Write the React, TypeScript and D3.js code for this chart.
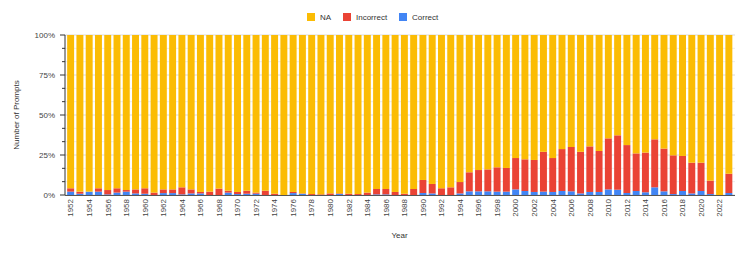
import React, { useEffect, useRef } from 'react';
import * as d3 from 'd3';

// years shown on the x axis (one bar each)
const years: number[] = d3.range(1952, 2024);

// share of prompts per year, in percent
const correct: number[] = [
  2.1, 0.8, 2.1, 2.1, 0.4, 1.5, 2.1, 1.0, 0.8, 0, 1.2, 1.2, 0.4, 1.0, 1.0, 0, 0, 1.5, 0.6, 0.8,
  0.8, 0, 0, 0, 1.2, 0.8, 0, 0, 0, 0.6, 0, 0, 0, 0.4, 0.4, 0, 0, 0, 1.25, 1.0,
  0, 0, 1.0, 2.3, 2.3, 2.3, 2.1, 2.1, 3.5, 2.5, 1.9, 2.1, 1.9, 2.5, 2.3, 1.0, 1.9, 1.9, 3.5, 3.3,
  1.25, 2.5, 1.7, 4.8, 2.3, 0.6, 2.5, 1.0, 2.5, 0.6, 0, 1.25,
];

const incorrect: number[] = [
  2.1, 1.3, 0, 2.1, 2.7, 2.7, 1.0, 2.5, 3.4, 1.5, 2.3, 2.3, 4.4, 2.5, 0.9, 2.1, 4.0, 1.2, 1.3, 1.9,
  0.7, 2.7, 0.8, 0, 0.7, 0.2, 0.6, 0.4, 1.0, 0.4, 0.8, 0.6, 1.5, 3.35, 3.35, 1.9, 0.8, 3.75, 8.15, 5.9,
  4.2, 4.8, 7.1, 11.9, 13.3, 13.7, 15.2, 14.8, 19.6, 19.8, 20.0, 24.9, 21.2, 26.2, 27.7, 26.0, 28.5, 25.6, 31.9, 34.0,
  29.95, 23.5, 24.8, 30.0, 26.7, 24.2, 21.9, 19.2, 17.7, 8.4, 0, 12.05,
];

const seriesKeys = ['NA', 'Incorrect', 'Correct'];
const seriesColors = ['#FBBC04', '#EA4335', '#4285F4'];
const majorTicks = [0, 25, 50, 75, 100];

interface Row {
  year: string;
  Correct: number;
  Incorrect: number;
  NA: number;
}

export default function App() {
  const ref = useRef<SVGSVGElement>(null);

  useEffect(() => {
    const width = 747;
    const height = 253;
    const margin = { top: 35, bottom: 58, left: 65, right: 13 };
    const font = 'Arial, "Liberation Sans", sans-serif';

    const rows: Row[] = years.map((y, i) => ({
      year: String(y),
      Correct: correct[i],
      Incorrect: incorrect[i],
      NA: 100 - correct[i] - incorrect[i],
    }));

    const svg = d3.select(ref.current);
    svg.selectAll('*').remove();

    const xScale = d3
      .scaleBand()
      .domain(rows.map((d) => d.year))
      .range([margin.left + 1, width - margin.right - 0.5])
      .paddingInner(0.25)
      .paddingOuter(0.125);

    const yScale = d3
      .scaleLinear()
      .domain([0, 100])
      .range([height - margin.bottom, margin.top]);

    // gridlines, every 1/12 of the axis
    const gridValues = d3.range(0, 13).map((i) => (i * 100) / 12);
    svg
      .append('g')
      .selectAll('line')
      .data(gridValues)
      .enter()
      .append('line')
      .attr('x1', margin.left)
      .attr('x2', width - margin.right + 1)
      .attr('y1', (d) => yScale(d))
      .attr('y2', (d) => yScale(d))
      .attr('stroke', (d) => (d % 25 === 0 ? '#dadada' : '#ececec'))
      .attr('stroke-width', 1);

    // stacked bars: Correct at the bottom, then Incorrect, then NA
    const stack = d3.stack<Row>().keys(['Correct', 'Incorrect', 'NA']);
    const layers = stack(rows);
    const colorScale = d3.scaleOrdinal<string, string>().domain(seriesKeys).range(seriesColors);

    svg
      .append('g')
      .selectAll('g')
      .data(layers)
      .enter()
      .append('g')
      .attr('fill', (d) => colorScale(d.key))
      .selectAll('rect')
      .data((d) => d)
      .enter()
      .append('rect')
      .attr('x', (d) => xScale(d.data.year) as number)
      .attr('y', (d) => yScale(d[1]))
      .attr('width', xScale.bandwidth())
      .attr('height', (d) => Math.max(0, yScale(d[0]) - yScale(d[1])));

    // y axis
    const yAxis = svg.append('g');
    yAxis
      .append('line')
      .attr('x1', margin.left)
      .attr('x2', margin.left)
      .attr('y1', yScale(100))
      .attr('y2', yScale(0))
      .attr('stroke', '#333');
    yAxis
      .selectAll('line.tick')
      .data(gridValues)
      .enter()
      .append('line')
      .attr('class', 'tick')
      .attr('x1', (d) => (d % 25 === 0 ? margin.left - 5 : margin.left - 3))
      .attr('x2', margin.left)
      .attr('y1', (d) => yScale(d))
      .attr('y2', (d) => yScale(d))
      .attr('stroke', '#333');
    yAxis
      .selectAll('text')
      .data(majorTicks)
      .enter()
      .append('text')
      .attr('x', margin.left - 10)
      .attr('y', (d) => yScale(d))
      .attr('dy', '0.35em')
      .attr('text-anchor', 'end')
      .attr('font-family', font)
      .attr('font-size', 8)
      .attr('fill', '#444')
      .text((d) => `${d}%`);

    // x axis
    svg
      .append('line')
      .attr('x1', margin.left)
      .attr('x2', width - margin.right + 1)
      .attr('y1', yScale(0) + 0.5)
      .attr('y2', yScale(0) + 0.5)
      .attr('stroke', '#555');

    svg
      .append('g')
      .selectAll('text')
      .data(rows.filter((_, i) => i % 2 === 0))
      .enter()
      .append('text')
      .attr('transform', (d) => {
        const cx = (xScale(d.year) as number) + xScale.bandwidth() / 2;
        return `translate(${cx}, ${yScale(0) + 4}) rotate(-90)`;
      })
      .attr('dy', '0.35em')
      .attr('text-anchor', 'end')
      .attr('font-family', font)
      .attr('font-size', 8)
      .attr('fill', '#444')
      .text((d) => d.year);

    // axis titles
    svg
      .append('text')
      .attr('x', (margin.left + width - margin.right) / 2)
      .attr('y', 238)
      .attr('text-anchor', 'middle')
      .attr('font-family', font)
      .attr('font-size', 8)
      .attr('fill', '#333')
      .text('Year');

    svg
      .append('text')
      .attr('transform', `translate(19, ${(yScale(0) + yScale(100)) / 2}) rotate(-90)`)
      .attr('text-anchor', 'middle')
      .attr('font-family', font)
      .attr('font-size', 8)
      .attr('fill', '#333')
      .text('Number of Prompts');

    // legend
    const legendX = [307, 343, 399];
    const legend = svg
      .append('g')
      .selectAll('g')
      .data(seriesKeys)
      .enter()
      .append('g')
      .attr('transform', (_, i) => `translate(${legendX[i]}, 13)`);
    legend
      .append('rect')
      .attr('width', 8)
      .attr('height', 8)
      .attr('fill', (d) => colorScale(d));
    legend
      .append('text')
      .attr('x', 13)
      .attr('y', 4)
      .attr('dy', '0.35em')
      .attr('font-family', font)
      .attr('font-size', 8)
      .attr('fill', '#333')
      .text((d) => d);
  }, []);

  return (
    <svg
      ref={ref}
      width={747}
      height={253}
      style={{ position: 'absolute', left: 0, top: 0, background: '#fff' }}
    />
  );
}
